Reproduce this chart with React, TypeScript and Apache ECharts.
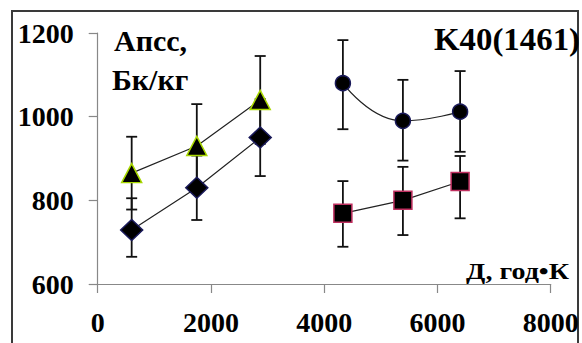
import React, { useEffect, useRef } from "react";
import * as echarts from "echarts";

const xLeft = [600, 1750, 2870];
const xRight = [4330, 5390, 6400];

const triangles = [865, 930, 1040];
const triLow = [778, 830, 935];
const triHigh = [952, 1030, 1145];

const diamonds = [729, 830, 950];
const diaLow = [665, 753, 858];
const diaHigh = [805, 907, 1042];

const circles = [1080, 990, 1012];
const cirLow = [970, 895, 916];
const cirHigh = [1183, 1088, 1109];

const squares = [769, 800, 845];
const sqLow = [689, 717, 757];
const sqHigh = [846, 880, 906];

const yTitle = ["Апсс,", "Бк/кг"];
const seriesTitle = "K40(1461)";
const xTitle = "Д, год•К";

const FONT = "Liberation Serif";

function errData(xs: number[], lo: number[], hi: number[]) {
  return xs.map((x, i) => [x, lo[i], hi[i]]);
}

function errorSeries(data: number[][]) {
  return {
    type: "custom",
    z: 1,
    silent: true,
    data,
    renderItem: (params: any, api: any) => {
      const x = api.value(0);
      const lo = api.coord([x, api.value(1)]);
      const hi = api.coord([x, api.value(2)]);
      const w = 5.5;
      const style = { stroke: "#111", lineWidth: 1.8 };
      return {
        type: "group",
        children: [
          { type: "line", shape: { x1: lo[0], y1: lo[1], x2: hi[0], y2: hi[1] }, style },
          { type: "line", shape: { x1: lo[0] - w, y1: lo[1], x2: lo[0] + w, y2: lo[1] }, style },
          { type: "line", shape: { x1: hi[0] - w, y1: hi[1], x2: hi[0] + w, y2: hi[1] }, style },
        ],
      };
    },
  };
}

function lineSeries(xs: number[], ys: number[], symbol: string, size: any, border: string, smooth: boolean) {
  return {
    type: "line",
    z: 3,
    smooth,
    data: xs.map((x, i) => [x, ys[i]]),
    symbol,
    symbolSize: size,
    showSymbol: true,
    lineStyle: { color: "#222", width: 1.2 },
    itemStyle: { color: "#000", borderColor: border, borderWidth: 1.5 },
  };
}

const plain = (v: number) => String(v);

export default function App() {
  const ref = useRef<HTMLDivElement>(null);
  useEffect(() => {
    if (!ref.current) return;
    const chart = echarts.init(ref.current, null, { renderer: "svg" });
    chart.setOption({
      animation: false,
      backgroundColor: "#fff",
      grid: { left: 97.7, right: 31.3, top: 33, bottom: 59, outerBoundsMode: "none" },
      xAxis: {
        type: "value",
        min: 0,
        max: 8000,
        interval: 2000,
        splitLine: { show: false },
        axisLine: { show: true, lineStyle: { color: "#888", width: 1.2 } },
        axisTick: { show: true, length: 9, lineStyle: { color: "#888", width: 1.2 } },
        axisLabel: { margin: 24, formatter: plain, fontFamily: FONT, fontWeight: "bold", fontSize: 28, color: "#000" },
      },
      yAxis: {
        type: "value",
        min: 600,
        max: 1200,
        interval: 200,
        splitLine: { show: false },
        axisLine: { show: true, lineStyle: { color: "#888", width: 1.2 } },
        axisTick: { show: true, length: 9, lineStyle: { color: "#888", width: 1.2 } },
        axisLabel: { margin: 24, formatter: plain, fontFamily: FONT, fontWeight: "bold", fontSize: 28, color: "#000" },
      },
      graphic: [
        {
          type: "rect",
          shape: { x: 12, y: 11, width: 566, height: 345 },
          style: { fill: "none", stroke: "#3a3a3a", lineWidth: 2 },
          z: 0,
        },
        {
          type: "text",
          x: 114,
          y: 40,
          style: { text: yTitle[0], fontFamily: FONT, fontWeight: "bold", fontSize: 30, fill: "#000", verticalAlign: "middle" },
        },
        {
          type: "text",
          x: 112,
          y: 79,
          style: { text: yTitle[1], fontFamily: FONT, fontWeight: "bold", fontSize: 30, fill: "#000", verticalAlign: "middle" },
        },
        {
          type: "text",
          x: 434,
          y: 40,
          scaleX: 1.06,
          style: { text: seriesTitle, fontFamily: FONT, fontWeight: "bold", fontSize: 31, fill: "#000", verticalAlign: "middle" },
        },
        {
          type: "text",
          x: 569,
          y: 271,
          scaleX: 1.22,
          style: { text: xTitle, fontFamily: FONT, fontWeight: "bold", fontSize: 23, fill: "#000", align: "right", verticalAlign: "middle" },
        },
      ],
      series: [
        errorSeries(errData(xLeft, triLow, triHigh)),
        errorSeries(errData(xLeft, diaLow, diaHigh)),
        errorSeries(errData(xRight, cirLow, cirHigh)),
        errorSeries(errData(xRight, sqLow, sqHigh)),
        lineSeries(xLeft, triangles, "triangle", [20, 19], "#a8d800", false),
        lineSeries(xLeft, diamonds, "diamond", [22, 21], "#1a1a5a", false),
        lineSeries(xRight, circles, "circle", 15, "#1a1a5a", true),
        lineSeries(xRight, squares, "rect", 18, "#c03060", false),
      ],
    });
    return () => chart.dispose();
  }, []);
  return (
    <div
      ref={ref}
      style={{ position: "fixed", left: 0, top: 0, width: 582, height: 343, background: "#fff" }}
    />
  );
}
